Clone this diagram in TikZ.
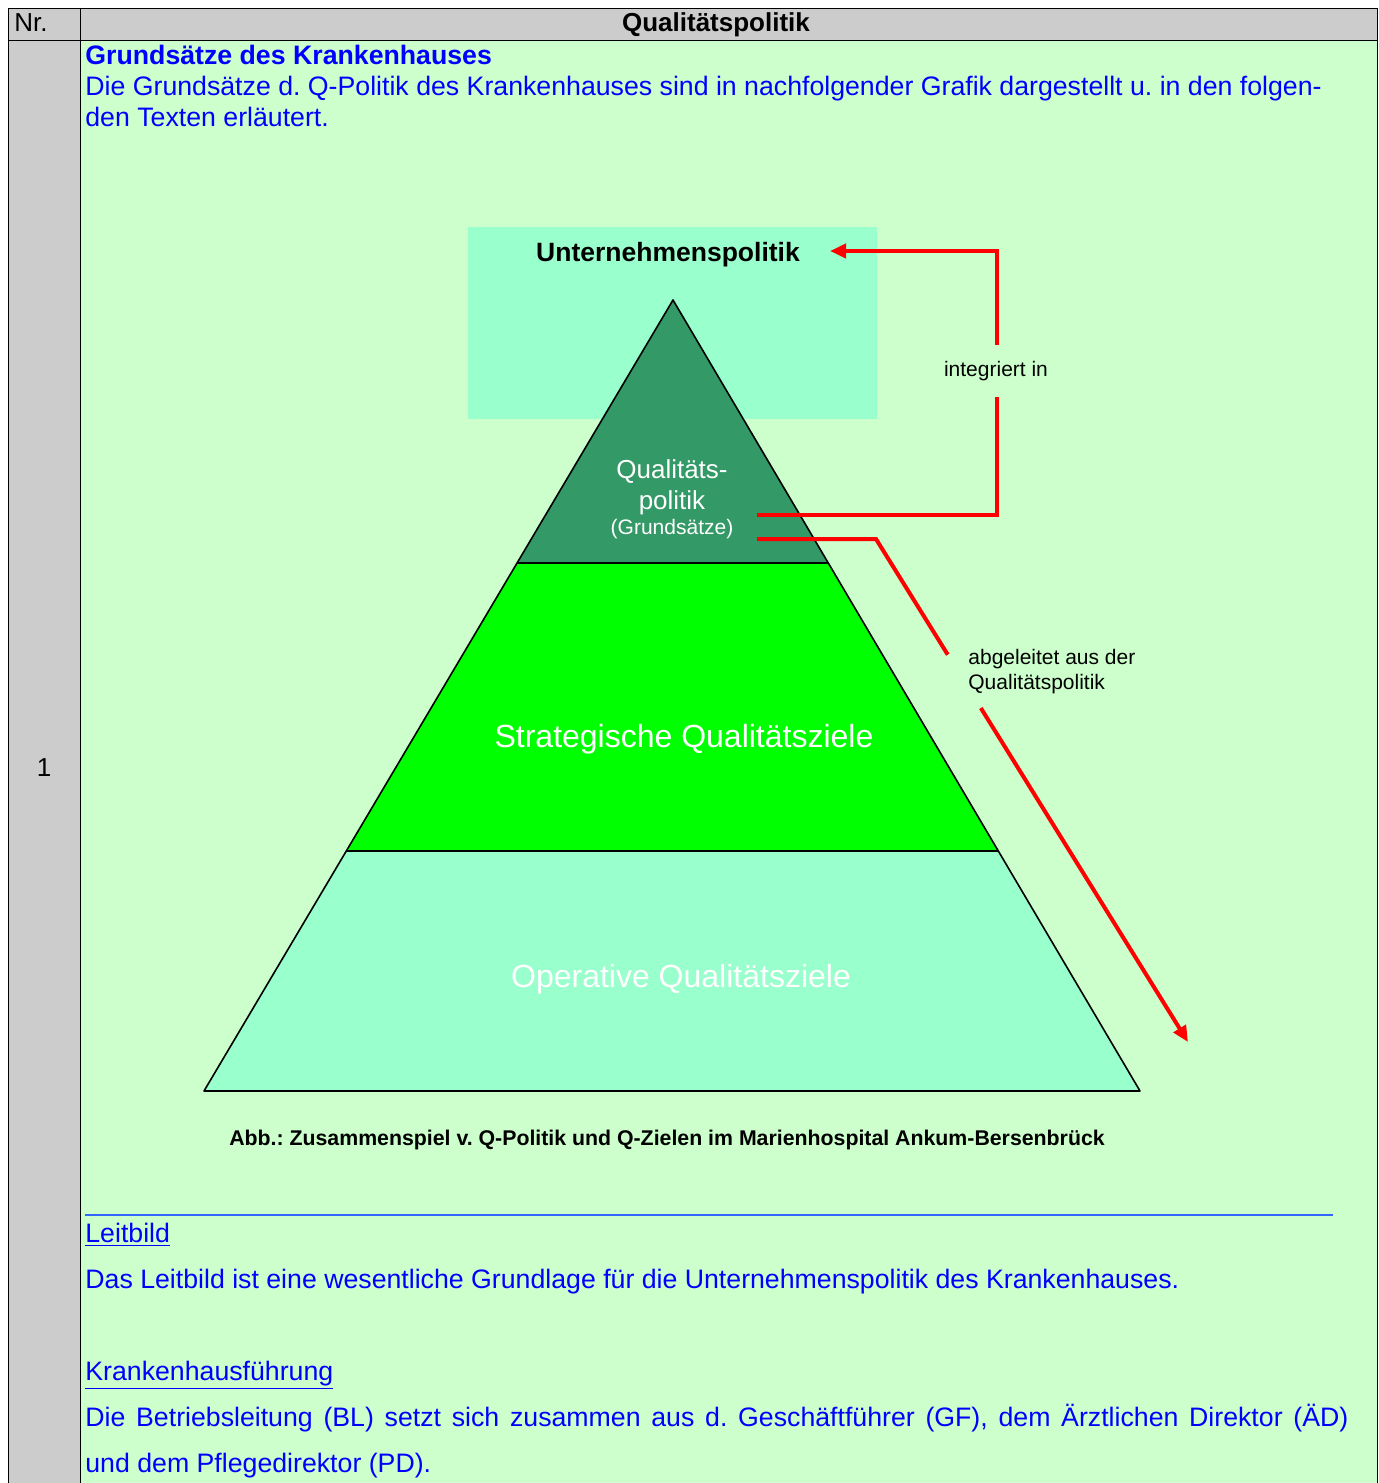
\documentclass[tikz,border=0pt]{standalone}
\usepackage{fontspec}
\setmainfont{Liberation Sans}
\usetikzlibrary{arrows.meta,calc}
\frenchspacing

\definecolor{cellgray}{HTML}{CCCCCC}
\definecolor{cellgreen}{HTML}{CCFFCC}
\definecolor{mint}{HTML}{99FFCC}
\definecolor{darkgreen}{HTML}{339966}
\definecolor{brightgreen}{HTML}{00FF00}
\definecolor{qblue}{HTML}{0000FF}
\definecolor{ruleblue}{HTML}{3366FF}
\definecolor{qred}{HTML}{FF0000}

\begin{document}
\begin{tikzpicture}[x=0.5pt,y=-0.5pt]
    \tikzset{btext/.style = {
        anchor=base west,
        inner sep=0pt,
        text=qblue,
        font=\fontsize{13.35}{15}\selectfont } }
    \tikzset{wtext/.style = {
        inner sep=0pt,
        text=white,
        font=\fontsize{13}{15}\selectfont } }
    \tikzset{lbl/.style = {
        inner sep=0pt,
        font=\fontsize{10.5}{12.5}\selectfont } }
    \tikzset{qline/.style = {
        draw=qred,
        line width=2pt} }
    \tikzset{qarrow/.style = {
        qline,
        -{Triangle[length=8pt,width=7pt]} } }
    \useasboundingbox (0,0) rectangle (1379,1483);
    % table
    \fill[cellgray] (8,8) rectangle (1377,40);
    \fill[cellgray] (8,40) rectangle (80,1483);
    \fill[cellgreen] (80,40) rectangle (1377,1483);
    \draw (8,1483) -- (8,8) -- (1377,8) -- (1377,1483);
    \draw (8,40) -- (1377,40);
    \draw (80,8) -- (80,1483);
    \node[btext, text=black, font=\fontsize{13}{15}\selectfont] (nr) at (14,32) {Nr.};
    \node[btext, text=black, anchor=base, font=\fontsize{13}{15}\selectfont\bfseries] (head) at (716,32) {Qualitätspolitik};
    \node[wtext, text=black] (one) at (44,768) {1};
    % intro
    \node[btext, font=\fontsize{13.35}{15}\selectfont\bfseries] (grund) at (85,64) {Grundsätze des Krankenhauses};
    \node[btext] (intro1) at (85,95) {Die Grundsätze d. Q-Politik des Krankenhauses sind in nachfolgender Grafik dargestellt u. in den folgen-};
    \node[btext] (intro2) at (85,126) {den Texten erläutert.};
    % pyramid
    \node[fill=mint, anchor=north west, minimum width=204.5pt, minimum height=96pt, inner sep=0pt] (upbox) at (468,227) {};
    \node[inner sep=0pt, font=\fontsize{13.25}{15}\selectfont\bfseries] (uptitle) at (668,255) {Unternehmenspolitik};
    \coordinate (apex) at (673,300);
    \coordinate (bl) at (204,1091);
    \coordinate (br) at (1140,1091);
    \coordinate (l1) at ($(apex)!0.3325!(bl)$);
    \coordinate (r1) at ($(apex)!0.3325!(br)$);
    \coordinate (l2) at ($(apex)!0.6966!(bl)$);
    \coordinate (r2) at ($(apex)!0.6966!(br)$);
    \fill[darkgreen] (apex) -- (l1) -- (r1) -- cycle;
    \fill[brightgreen] (l1) -- (l2) -- (r2) -- (r1) -- cycle;
    \fill[mint] (l2) -- (bl) -- (br) -- (r2) -- cycle;
    \draw[line width=0.8pt, line join=round] (apex) -- (bl) -- (br) -- cycle;
    \draw[line width=0.8pt] (l1) -- (r1);
    \draw[line width=0.8pt] (l2) -- (r2);
    \node[wtext] (q1) at (672,472) {Qualitäts-};
    \node[wtext] (q2) at (672,503) {politik};
    \node[wtext, font=\fontsize{10.5}{12}\selectfont] (q3) at (672,529) {(Grundsätze)};
    \node[wtext, font=\fontsize{16}{18}\selectfont] (strat) at (684,739) {Strategische Qualitätsziele};
    \node[wtext, font=\fontsize{16}{18}\selectfont] (oper) at (681,979) {Operative Qualitätsziele};
    % arrows
    \coordinate (qs1) at (757,515);
    \coordinate (c1) at (997,251);
    \coordinate (upin) at (830,251);
    \draw[qarrow] (qs1) -| (c1) -- (upin);
    \node[lbl, fill=cellgreen, inner ysep=8pt, inner xsep=2pt] (integ) at (996,371) {integriert in};
    \coordinate (qs2) at (757,539);
    \coordinate (c2) at (876,539);
    \coordinate (ae) at (1188,1042);
    \coordinate (g1) at ($(c2)!0.23!(ae)$);
    \coordinate (g2) at ($(c2)!0.336!(ae)$);
    \draw[qline] (qs2) -- (c2) -- (g1);
    \draw[qarrow] (g2) -- (ae);
    \node[lbl, anchor=north west, align=left] (abg) at (968,649) {abgeleitet aus der\\Qualitätspolitik};
    \node[lbl, font=\fontsize{10.65}{12.5}\selectfont\bfseries] (abb) at (667,1140) {Abb.: Zusammenspiel v. Q-Politik und Q-Zielen im Marienhospital Ankum-Bersenbrück};
    % texts below
    \draw[ruleblue, line width=1pt] (85,1215) -- (1333,1215);
    \node[btext] (leit) at (85,1242) {\underline{Leitbild}};
    \node[btext] (leittx) at (85,1288) {Das Leitbild ist eine wesentliche Grundlage für die Unternehmenspolitik des Krankenhauses.};
    \node[btext] (fuehr) at (85,1380) {\underline{Krankenhausführung}};
    \node[btext] (bl1) at (85,1426) {\makebox[631.5pt][s]{Die Betriebsleitung (BL) setzt sich zusammen aus d. Geschäftführer (GF), dem Ärztlichen Direktor (ÄD)}};
    \node[btext] (bl2) at (85,1472) {und dem Pflegedirektor (PD).};
\end{tikzpicture}
\end{document}
